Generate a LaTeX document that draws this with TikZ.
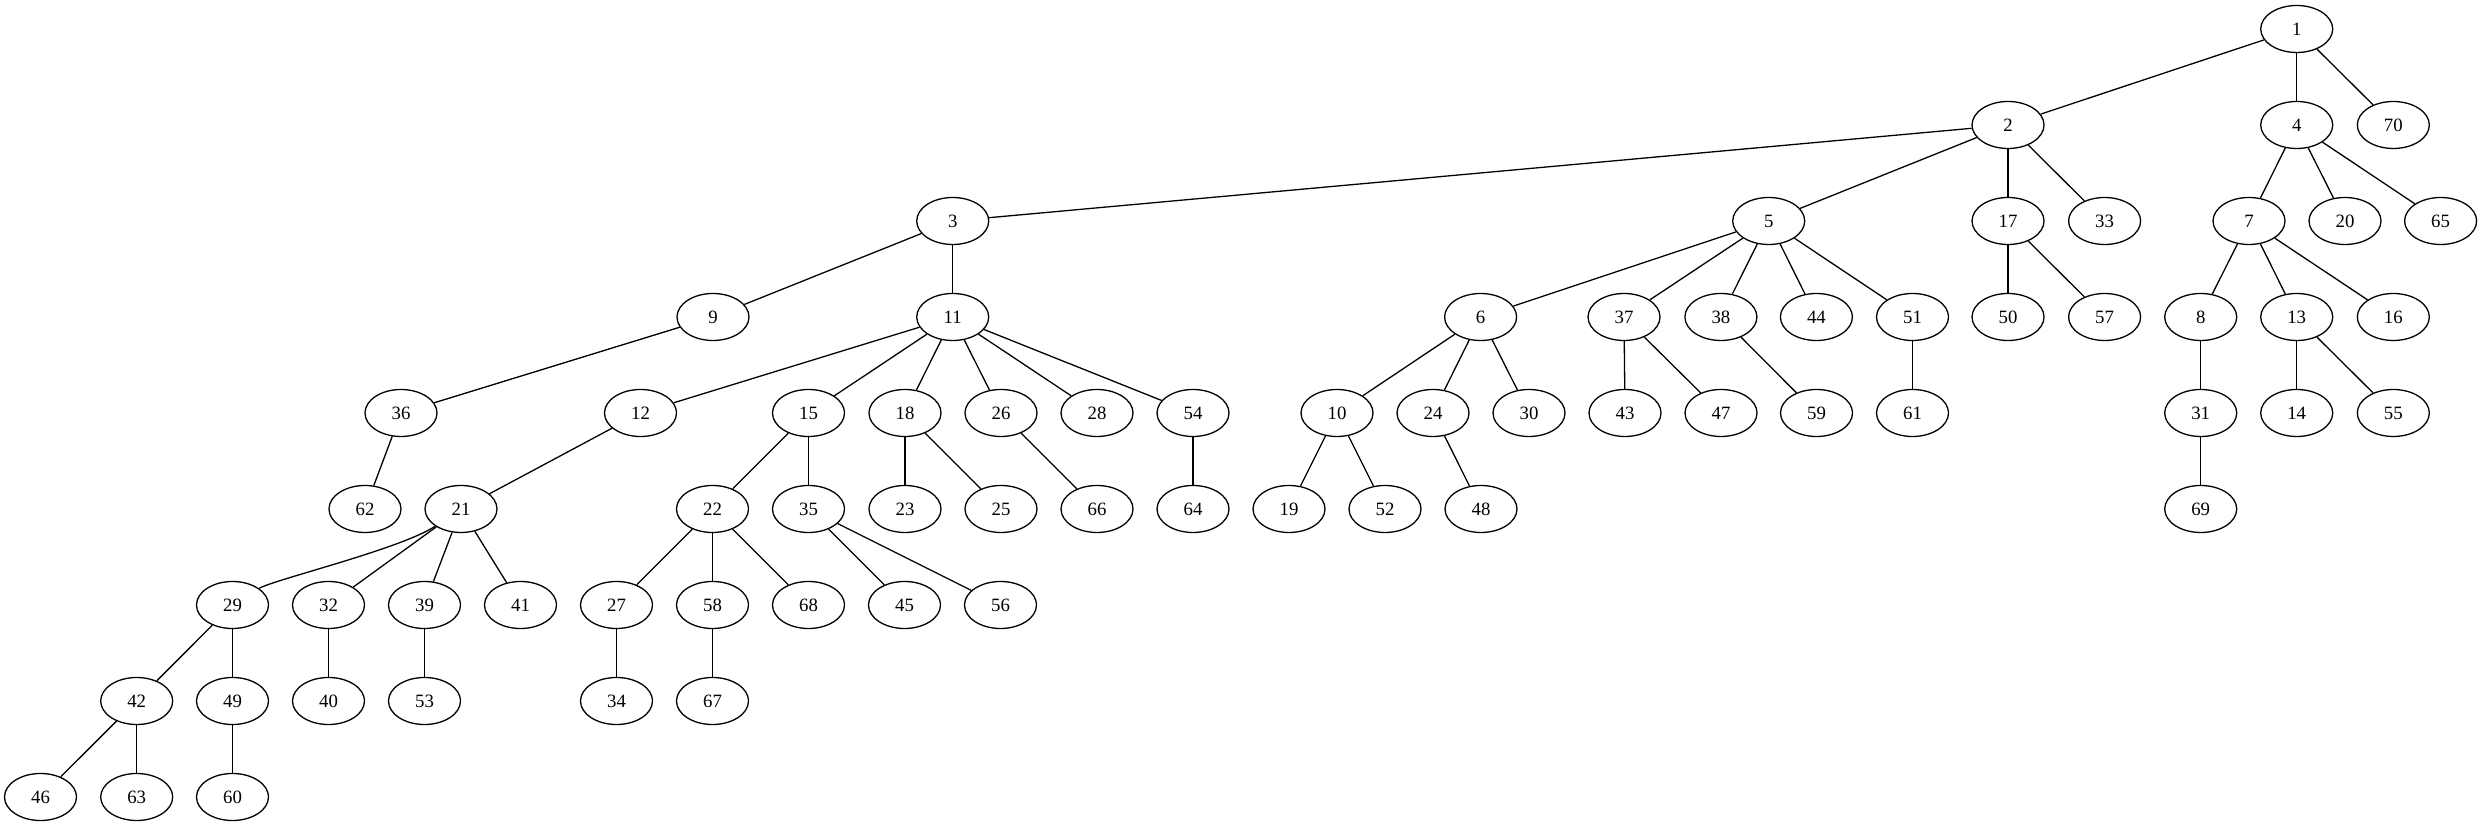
\documentclass[tikz,border=0pt]{standalone}
\usepackage{fontspec}
\setmainfont{Liberation Serif}
\usetikzlibrary{shapes.geometric}
\begin{document}
\begin{tikzpicture}[x=1pt,y=1pt,
  nd/.style={draw, ellipse, line width=1.3pt, minimum width=72pt, minimum height=47pt, inner sep=0pt, font=\fontsize{18.8}{20}\selectfont},
  edge/.style={line width=1.3pt}]
\useasboundingbox (0,0) rectangle (2483,827);
\foreach \n/\x/\r in {
  1/2296.7/0,
  2/2008/1, 4/2296.7/1, 70/2393.3/1,
  3/952.7/2, 5/1768.7/2, 17/2008/2, 33/2104.6/2, 7/2249/2, 20/2345/2, 65/2440.6/2,
  9/713/3, 11/952.7/3, 6/1480.6/3, 37/1624/3, 38/1720.9/3, 44/1816.4/3, 51/1912.5/3, 50/2008/3, 57/2104.6/3, 8/2200.7/3, 13/2296.7/3, 16/2393.3/3,
  36/401/4, 12/640.5/4, 15/808.5/4, 18/905/4, 26/1001/4, 28/1097/4, 54/1193/4, 10/1337/4, 24/1433/4, 30/1529/4, 43/1625/4, 47/1721/4, 59/1816.5/4, 61/1912.5/4, 31/2200.7/4, 14/2296.7/4, 55/2393.3/4,
  62/365/5, 21/461/5, 22/712.5/5, 35/808.5/5, 23/905/5, 25/1001/5, 66/1097/5, 64/1193/5, 19/1289/5, 52/1385/5, 48/1481/5, 69/2200.7/5,
  29/232.5/6, 32/328.5/6, 39/424.5/6, 41/520.5/6, 27/616.5/6, 58/712.5/6, 68/808.5/6, 45/904.5/6, 56/1000.5/6,
  42/136.7/7, 49/232.5/7, 40/328.5/7, 53/424.5/7, 34/616.5/7, 67/712.5/7,
  46/40.5/8, 63/136.7/8, 60/232.5/8}
  \node[nd] (n\n) at (\x, {798-96*\r}) {\n};
\foreach \a/\b in {
  1/2, 1/4, 1/70,
  2/3, 2/5, 2/17, 2/33,
  4/7, 4/20, 4/65,
  3/9, 3/11,
  5/6, 5/37, 5/38, 5/44, 5/51,
  17/50, 17/57,
  7/8, 7/13, 7/16,
  9/36,
  11/12, 11/15, 11/18, 11/26, 11/28, 11/54,
  6/10, 6/24, 6/30,
  37/43, 37/47,
  38/59, 51/61, 8/31,
  13/14, 13/55,
  36/62, 12/21,
  15/22, 15/35,
  18/23, 18/25,
  26/66, 54/64,
  10/19, 10/52,
  24/48, 31/69,
  21/32, 21/39, 21/41,
  22/27, 22/58, 22/68,
  35/45, 35/56,
  29/42, 29/49,
  32/40, 39/53, 27/34, 58/67,
  42/46, 42/63, 49/60}
  \draw[edge] (n\a) -- (n\b);
\draw[edge] (n21) .. controls ++(-60,-40) and ++(40,25) .. (n29);
\end{tikzpicture}
\end{document}
